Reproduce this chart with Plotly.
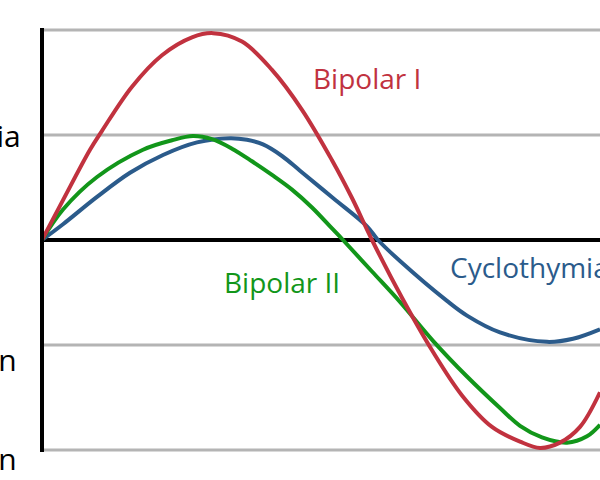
import plotly.graph_objects as go

# x: time (0 = start at axis), y: mood level (-2 severe depression .. 2 mania)
levels = [2, 1, -1, -2]
left_labels = ["Hypomania", "Depression", "Depression"]
left_label_y = [1.0, -1.14, -2.08]

bp1_x = [0, 21, 48, 60, 90, 120, 150, 171, 200, 230, 260, 290, 310, 330, 360, 390, 420, 450, 478, 498, 518, 538, 558]
bp1_y = [0, 0.38, 0.86, 1.04, 1.46, 1.76, 1.93, 1.97, 1.89, 1.62, 1.24, 0.76, 0.40, 0, -0.55, -1.05, -1.48, -1.78, -1.92, -1.98, -1.93, -1.78, -1.45]

bp2_x = [0, 21, 55, 101, 130, 151, 170, 190, 210, 230, 250, 270, 290, 301, 330, 358, 391, 425, 458, 478, 500, 525, 545, 558]
bp2_y = [0, 0.29, 0.60, 0.86, 0.95, 0.99, 0.96, 0.87, 0.75, 0.62, 0.48, 0.31, 0.11, 0, -0.30, -0.59, -0.96, -1.30, -1.60, -1.77, -1.88, -1.93, -1.87, -1.76]

cyc_x = [0, 21, 55, 88, 121, 155, 188, 205, 221, 240, 258, 291, 325, 336, 358, 405, 425, 458, 505, 531, 558]
cyc_y = [0, 0.15, 0.41, 0.64, 0.81, 0.93, 0.97, 0.955, 0.91, 0.80, 0.66, 0.40, 0.13, 0, -0.20, -0.58, -0.72, -0.88, -0.97, -0.94, -0.85]

RED = "#c1323f"
GREEN = "#12961a"
BLUE = "#2b5b8b"
GRAY = "#b4b4b4"

fig = go.Figure()
for xs, ys, c in [(cyc_x, cyc_y, BLUE), (bp2_x, bp2_y, GREEN), (bp1_x, bp1_y, RED)]:
    fig.add_trace(go.Scatter(x=xs, y=ys, mode="lines",
                             line=dict(color=c, width=4, shape="spline", smoothing=1.0),
                             hoverinfo="skip", showlegend=False))

shapes = []
for lv in levels:
    shapes.append(dict(type="line", xref="x", yref="y", x0=0, x1=600, y0=lv, y1=lv,
                       line=dict(color=GRAY, width=3), layer="below"))
shapes.append(dict(type="line", xref="x", yref="y", x0=0, x1=600, y0=0, y1=0,
                   line=dict(color="black", width=4), layer="below"))
shapes.append(dict(type="line", xref="x", yref="y", x0=0, x1=0, y0=2.02, y1=-2.02,
                   line=dict(color="black", width=4), layer="above"))

font = "Open Sans"
ann = [
    dict(x=325, xref="x", y=1.54, text="Bipolar I", font=dict(color=RED, size=28, family=font), xanchor="center"),
    dict(x=240, xref="x", y=-0.40, text="Bipolar II", font=dict(color=GREEN, size=28, family=font), xanchor="center"),
    dict(x=406, xref="x", y=-0.26, text="Cyclothymia", font=dict(color=BLUE, size=28, family=font), xanchor="left"),
    dict(x=-0.013, xref="paper", y=left_label_y[0], text=left_labels[0],
         font=dict(color="black", size=30, family=font), xanchor="right"),
    dict(x=-0.019, xref="paper", y=left_label_y[1], text=left_labels[1],
         font=dict(color="black", size=30, family=font), xanchor="right"),
    dict(x=-0.019, xref="paper", y=left_label_y[2], text=left_labels[2],
         font=dict(color="black", size=30, family=font), xanchor="right"),
]
for a in ann:
    a.update(yref="y", yanchor="middle", showarrow=False)

fig.update_layout(
    width=600, height=480,
    margin=dict(l=30, r=0, t=9, b=9),
    paper_bgcolor="white", plot_bgcolor="white",
    xaxis=dict(range=[-12, 558], visible=False, fixedrange=True),
    yaxis=dict(range=[-2.2, 2.2], visible=False, fixedrange=True),
    shapes=shapes, annotations=ann, showlegend=False,
)
fig.write_html("out.html")
